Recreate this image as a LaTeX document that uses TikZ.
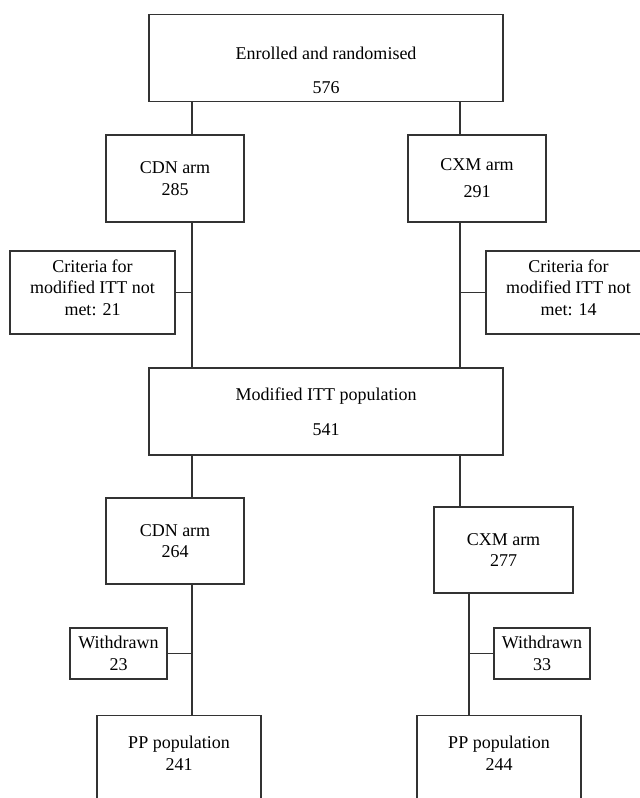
\documentclass[tikz,border=0pt]{standalone}
\usepackage{fontspec}
\setmainfont{Liberation Serif}
\definecolor{linegray}{HTML}{333333}
\tikzset{
  box/.style={draw=linegray, line width=1.4pt, align=center, inner sep=0pt,
    font=\fontsize{18pt}{21.5pt}\selectfont},
  link/.style={draw=linegray, line width=1.4pt}
}
\begin{document}
\begin{tikzpicture}[x=1pt, y=-1pt]
    \useasboundingbox (0,0) rectangle (640,798);

    % Column positions of the vertical lines
    \coordinate (colL) at (192,0);
    \coordinate (colR) at (460,0);
    \coordinate (colRb) at (469,0);

    % Randomisation
    \node[box, minimum width=354pt, anchor=north, text height=79pt, text depth=8pt] (enrol) at (326,14) {Enrolled and randomised\\[12.5pt]576};

    % Arms
    \node[box, minimum width=138pt, minimum height=87pt] (cdnA) at (175,178.5) {CDN arm\\285};
    \node[box, minimum width=138pt, minimum height=87pt] (cxmA) at (477,178.5) {CXM arm\\[5.5pt]291};

    % Excluded from modified ITT
    \node[box, minimum width=165pt, minimum height=83pt, text depth=10pt] (critL) at (92.5,292.5) {Criteria for\\modified ITT not\\met: 21};
    \node[box, minimum width=165pt, minimum height=83pt, text depth=10pt] (critR) at (568.5,292.5) {Criteria for\\modified ITT not\\met: 14};

    % Modified ITT population
    \node[box, minimum width=354pt, minimum height=87pt] (itt) at (326,411.5) {Modified ITT population\\[13.5pt]541};

    % Arms after modified ITT
    \node[box, minimum width=138pt, minimum height=86pt] (cdnB) at (175,541) {CDN arm\\264};
    \node[box, minimum width=139pt, minimum height=86pt] (cxmB) at (503.5,550) {CXM arm\\277};

    % Withdrawn
    \node[box, minimum width=97pt, minimum height=51pt] (wdL) at (118.5,653.5) {Withdrawn\\23};
    \node[box, minimum width=96pt, minimum height=51pt] (wdR) at (542,653.5) {Withdrawn\\33};

    % PP population (runs off the bottom)
    \node[box, minimum width=164pt, anchor=north, text height=54.5pt, text depth=90pt] (ppL) at (179,715) {PP population\\241};
    \node[box, minimum width=164pt, anchor=north, text height=54.5pt, text depth=90pt] (ppR) at (499,715) {PP population\\244};

    % Connectors
    \draw[link] (enrol.south -| colL) -- (cdnA.north -| colL);
    \draw[link] (enrol.south -| colR) -- (cxmA.north -| colR);
    \draw[link] (cdnA.south -| colL) -- (itt.north -| colL);
    \draw[link] (cxmA.south -| colR) -- (itt.north -| colR);
    \draw[link] (critL.east) -- (critL.east -| colL);
    \draw[link] (critR.west) -- (critR.west -| colR);
    \draw[link] (itt.south -| colL) -- (cdnB.north -| colL);
    \draw[link] (itt.south -| colR) -- (cxmB.north -| colR);
    \draw[link] (cdnB.south -| colL) -- (ppL.north -| colL);
    \draw[link] (cxmB.south -| colRb) -- (ppR.north -| colRb);
    \draw[link] (wdL.east) -- (wdL.east -| colL);
    \draw[link] (wdR.west) -- (wdR.west -| colRb);
\end{tikzpicture}
\end{document}
